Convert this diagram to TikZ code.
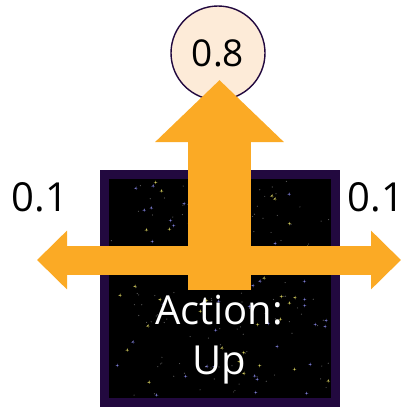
\documentclass[tikz,border=0pt]{standalone}
\usepackage{fontspec}
\setmainfont{Open Sans}
\usetikzlibrary{arrows.meta}
\definecolor{arrowOrange}{HTML}{FBAA25}
\definecolor{gridPurple}{HTML}{22093F}
\definecolor{probFill}{HTML}{FDEBD8}
\tikzset{%
  % sizes are in pixels of the final image (1pt each)
  cell/.style   = {draw=gridPurple, line width=9pt, fill=black},
  prob/.style   = {circle, draw=gridPurple, line width=1.4pt, fill=probFill,
                   minimum size=94pt, inner sep=0pt,
                   font=\fontsize{37}{44}\selectfont},
  side/.style   = {font=\fontsize{40}{48}\selectfont},
  action/.style = {text=white, align=center,
                   font=\fontsize{40}{50}\selectfont},
  moveUp/.style = {draw=arrowOrange, line width=63pt,
                   -{Triangle[width=125pt, length=62pt]}},
  slip/.style   = {draw=arrowOrange, line width=29pt,
                   {Triangle[width=57pt, length=30pt]}-{Triangle[width=57pt, length=30pt]}},
  star/.style   = {line width=0.4pt, line cap=round},
}
\begin{document}
\begin{tikzpicture}[x=1pt, y=-1pt]
  \useasboundingbox (0,0) rectangle (404,407);
  % the grid cell with its starfield
  \draw[cell] (104.5,174.5) rectangle (335.5,402.5);
  \pgfmathsetseed{4217}
  \foreach \i in {1,...,220} {
    \pgfmathsetmacro{\sx}{111+218*rnd}
    \pgfmathsetmacro{\sy}{181+215*rnd}
    \pgfmathsetmacro{\sc}{rnd}
    \ifdim\sc pt<0.7pt
      \fill[white, opacity=0.35] (\sx,\sy) circle (0.6);
    \else\ifdim\sc pt<0.9pt
      \fill[blue!30!white, opacity=0.7] (\sx,\sy) circle (0.9);
      \draw[star, blue!50!white, opacity=0.3] (\sx-1.6,\sy) -- (\sx+1.6,\sy)
        (\sx,\sy-1.6) -- (\sx,\sy+1.6);
    \else
      \fill[yellow!50!white, opacity=0.7] (\sx,\sy) circle (0.9);
      \draw[star, yellow!60!white, opacity=0.3] (\sx-1.6,\sy) -- (\sx+1.6,\sy)
        (\sx,\sy-1.6) -- (\sx,\sy+1.6);
    \fi\fi
  }
  % probability of the intended move
  \node (pUp) [prob] at (218,53) {0.8};
  \node (pLeft) [side] at (40,197) {0.1};
  \node (pRight) [side] at (376,197) {0.1};
  % arrows
  \coordinate (west) at (37,260);
  \coordinate (east) at (401,260);
  \coordinate (base) at (219.5,290);
  \coordinate (tip) at (219.5,80);
  \draw[slip] (west) -- (east);
  \draw[moveUp] (base) -- (tip);
  \node (act) [action] at (219,340) {Action:\\Up};
\end{tikzpicture}
\end{document}
